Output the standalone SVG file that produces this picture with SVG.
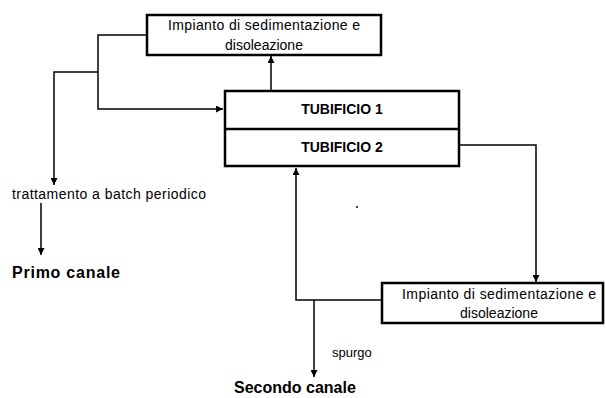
<svg xmlns="http://www.w3.org/2000/svg" width="606" height="398" viewBox="0 0 606 398">
<style>
.box{fill:#fff;stroke:#000;stroke-width:2.5}
.c{fill:none;stroke:#000;stroke-width:1.5}
.t{font-family:"Liberation Sans",Arial,sans-serif;font-size:14px;fill:#000}
.b{font-weight:bold}
</style>
<defs>
<marker id="ah" viewBox="0 0 10 10" refX="10" refY="5" markerWidth="7" markerHeight="7" markerUnits="userSpaceOnUse" orient="auto">
<path d="M0,0 L10,5 L0,10 z" fill="#000"/>
</marker>
</defs>
<rect width="606" height="398" fill="#fff"/>
<g id="connectors">
<path class="c" d="M147,35 H98 V109 H223" marker-end="url(#ah)"/>
<path class="c" d="M98,72 H54 V185" marker-end="url(#ah)"/>
<path class="c" d="M41,203 V255" marker-end="url(#ah)"/>
<path class="c" d="M271,91 V56" marker-end="url(#ah)"/>
<path class="c" d="M460,145 H536 V282" marker-end="url(#ah)"/>
<path class="c" d="M382,300 H296 V168" marker-end="url(#ah)"/>
<path class="c" d="M314,300 V377" marker-end="url(#ah)"/>
</g>
<g id="top-plant">
<rect class="box" x="147" y="15" width="234" height="40"/>
<text class="t" x="264" y="30" text-anchor="middle" textLength="192">Impianto di sedimentazione e</text>
<text class="t" x="264" y="50" text-anchor="middle">disoleazione</text>
</g>
<g id="tubificio">
<rect class="box" x="225" y="91" width="234" height="75"/>
<line x1="225" y1="129" x2="459" y2="129" stroke="#000" stroke-width="2.5"/>
<text class="t b" x="342" y="114" text-anchor="middle">TUBIFICIO 1</text>
<text class="t b" x="342" y="152" text-anchor="middle">TUBIFICIO 2</text>
</g>
<g id="bottom-plant">
<rect class="box" x="382" y="283" width="221" height="40"/>
<text class="t" x="499" y="299" text-anchor="middle" textLength="194">Impianto di sedimentazione e</text>
<text class="t" x="499" y="318" text-anchor="middle">disoleazione</text>
</g>
<g id="labels">
<text class="t" x="12" y="199" textLength="194">trattamento a batch periodico</text>
<text class="t b" x="12" y="278" style="font-size:16px" textLength="108">Primo canale</text>
<text class="t" x="332" y="357" style="font-size:13px">spurgo</text>
<text class="t b" x="234" y="393" style="font-size:16px">Secondo canale</text>
</g>
<circle cx="357" cy="207" r="1" fill="#000"/>
</svg>
